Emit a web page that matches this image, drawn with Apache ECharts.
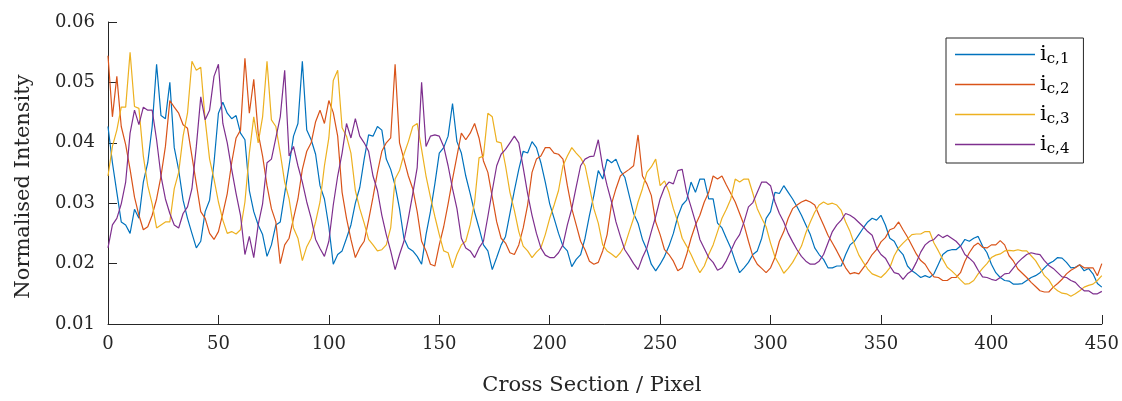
<!DOCTYPE html>
<html><head><meta charset="utf-8">
<script src="https://cdn.jsdelivr.net/npm/echarts@6/dist/echarts.min.js"></script>
<style>html,body{margin:0;padding:0;background:#fff}#c{width:1122px;height:401px}</style>
</head><body><div id="c"></div>
<script>
const seriesNames = ['ic,1', 'ic,2', 'ic,3', 'ic,4'];
const seriesColors = ['#0072BD', '#D95319', '#EDB120', '#7E2F8E'];
const xStep = 2; // samples every 2 pixels along the cross section, from 0 to 450

const ic1 = [
0.0427,0.0367,0.0318,0.0269,0.0264,0.0250,0.0290,0.0275,0.0335,0.0367,
0.0427,0.0530,0.0445,0.0440,0.0500,0.0392,0.0355,0.0305,0.0275,0.0250,
0.0226,0.0237,0.0286,0.0305,0.0367,0.0449,0.0467,0.0449,0.0440,0.0445,
0.0416,0.0405,0.0321,0.0286,0.0264,0.0248,0.0212,0.0231,0.0264,0.0269,
0.0316,0.0362,0.0411,0.0432,0.0535,0.0421,0.0405,0.0381,0.0329,0.0307,
0.0261,0.0199,0.0215,0.0221,0.0242,0.0264,0.0300,0.0326,0.0373,0.0413,
0.0411,0.0427,0.0421,0.0373,0.0356,0.0329,0.0291,0.0242,0.0226,0.0221,
0.0212,0.0199,0.0248,0.0286,0.0332,0.0383,0.0392,0.0411,0.0465,0.0402,
0.0383,0.0345,0.0316,0.0285,0.0259,0.0231,0.0221,0.0190,0.0210,0.0231,
0.0245,0.0283,0.0321,0.0356,0.0386,0.0383,0.0402,0.0392,0.0367,0.0335,
0.0299,0.0275,0.0250,0.0229,0.0221,0.0195,0.0207,0.0215,0.0242,0.0280,
0.0313,0.0354,0.0340,0.0373,0.0367,0.0373,0.0354,0.0343,0.0313,0.0283,
0.0267,0.0240,0.0223,0.0199,0.0188,0.0199,0.0212,0.0229,0.0250,0.0278,
0.0297,0.0305,0.0335,0.0318,0.0340,0.0340,0.0307,0.0307,0.0267,0.0259,
0.0242,0.0226,0.0204,0.0185,0.0193,0.0202,0.0215,0.0221,0.0242,0.0275,
0.0286,0.0318,0.0316,0.0329,0.0318,0.0307,0.0294,0.0280,0.0264,0.0248,
0.0226,0.0215,0.0207,0.0193,0.0193,0.0196,0.0196,0.0215,0.0231,0.0237,
0.0248,0.0259,0.0269,0.0275,0.0272,0.0280,0.0264,0.0242,0.0237,0.0223,
0.0215,0.0196,0.0188,0.0183,0.0177,0.0180,0.0177,0.0183,0.0199,0.0215,
0.0221,0.0223,0.0223,0.0229,0.0240,0.0237,0.0242,0.0245,0.0229,0.0218,
0.0199,0.0185,0.0177,0.0172,0.0171,0.0166,0.0166,0.0167,0.0172,0.0177,
0.0180,0.0185,0.0193,0.0200,0.0204,0.0210,0.0209,0.0202,0.0193,0.0194,
0.0198,0.0188,0.0192,0.0183,0.0167,0.0161
];
const ic2 = [
0.0544,0.0443,0.0510,0.0427,0.0397,0.0356,0.0310,0.0280,0.0256,0.0261,
0.0280,0.0307,0.0345,0.0394,0.0470,0.0459,0.0449,0.0430,0.0424,0.0378,
0.0332,0.0286,0.0275,0.0250,0.0240,0.0253,0.0283,0.0316,0.0367,0.0408,
0.0421,0.0540,0.0449,0.0505,0.0416,0.0378,0.0329,0.0291,0.0269,0.0200,
0.0231,0.0242,0.0275,0.0307,0.0356,0.0386,0.0400,0.0435,0.0454,0.0432,
0.0470,0.0450,0.0411,0.0318,0.0275,0.0240,0.0210,0.0226,0.0237,0.0272,
0.0310,0.0351,0.0386,0.0400,0.0408,0.0530,0.0400,0.0373,0.0345,0.0324,
0.0286,0.0237,0.0221,0.0199,0.0196,0.0231,0.0261,0.0299,0.0340,0.0378,
0.0416,0.0405,0.0416,0.0432,0.0408,0.0370,0.0351,0.0310,0.0269,0.0242,
0.0234,0.0218,0.0215,0.0231,0.0259,0.0297,0.0351,0.0373,0.0378,0.0392,
0.0392,0.0383,0.0381,0.0373,0.0329,0.0291,0.0264,0.0237,0.0223,0.0204,
0.0199,0.0202,0.0221,0.0248,0.0299,0.0324,0.0345,0.0351,0.0356,0.0362,
0.0413,0.0345,0.0332,0.0313,0.0269,0.0248,0.0223,0.0215,0.0204,0.0188,
0.0193,0.0215,0.0242,0.0264,0.0280,0.0302,0.0318,0.0345,0.0340,0.0345,
0.0330,0.0316,0.0302,0.0283,0.0264,0.0237,0.0212,0.0199,0.0192,0.0185,
0.0193,0.0210,0.0237,0.0253,0.0275,0.0291,0.0297,0.0302,0.0305,0.0302,
0.0297,0.0280,0.0264,0.0247,0.0234,0.0221,0.0207,0.0193,0.0183,0.0185,
0.0183,0.0193,0.0203,0.0215,0.0223,0.0236,0.0243,0.0256,0.0259,0.0269,
0.0256,0.0244,0.0230,0.0216,0.0205,0.0199,0.0187,0.0178,0.0177,0.0172,
0.0172,0.0177,0.0177,0.0185,0.0204,0.0218,0.0229,0.0234,0.0227,0.0226,
0.0231,0.0231,0.0238,0.0231,0.0213,0.0204,0.0191,0.0184,0.0177,0.0169,
0.0162,0.0155,0.0153,0.0153,0.0161,0.0167,0.0174,0.0183,0.0189,0.0193,
0.0198,0.0193,0.0193,0.0193,0.0180,0.0200
];
const ic3 = [
0.0345,0.0394,0.0421,0.0459,0.0459,0.0550,0.0460,0.0457,0.0378,0.0329,
0.0299,0.0259,0.0264,0.0269,0.0269,0.0324,0.0351,0.0411,0.0449,0.0535,
0.0520,0.0525,0.0438,0.0373,0.0340,0.0302,0.0272,0.0250,0.0253,0.0249,
0.0256,0.0302,0.0383,0.0443,0.0400,0.0443,0.0535,0.0438,0.0427,0.0383,
0.0335,0.0307,0.0259,0.0242,0.0205,0.0228,0.0242,0.0269,0.0302,0.0362,
0.0408,0.0503,0.0520,0.0425,0.0411,0.0383,0.0321,0.0291,0.0267,0.0240,
0.0231,0.0221,0.0223,0.0231,0.0259,0.0340,0.0354,0.0381,0.0402,0.0427,
0.0432,0.0389,0.0345,0.0310,0.0278,0.0248,0.0221,0.0218,0.0193,0.0215,
0.0231,0.0237,0.0264,0.0302,0.0375,0.0378,0.0449,0.0443,0.0402,0.0400,
0.0362,0.0318,0.0288,0.0253,0.0229,0.0221,0.0210,0.0219,0.0226,0.0248,
0.0275,0.0297,0.0321,0.0362,0.0378,0.0392,0.0383,0.0375,0.0362,0.0327,
0.0291,0.0267,0.0231,0.0221,0.0216,0.0210,0.0218,0.0230,0.0253,0.0275,
0.0302,0.0324,0.0351,0.0360,0.0373,0.0329,0.0337,0.0318,0.0291,0.0269,
0.0242,0.0229,0.0215,0.0199,0.0185,0.0196,0.0215,0.0231,0.0253,0.0275,
0.0290,0.0307,0.0340,0.0335,0.0340,0.0340,0.0316,0.0291,0.0275,0.0261,
0.0234,0.0211,0.0198,0.0184,0.0192,0.0202,0.0215,0.0229,0.0251,0.0269,
0.0285,0.0297,0.0302,0.0298,0.0300,0.0297,0.0288,0.0269,0.0253,0.0232,
0.0214,0.0202,0.0191,0.0183,0.0180,0.0177,0.0184,0.0193,0.0213,0.0226,
0.0234,0.0241,0.0248,0.0249,0.0249,0.0253,0.0253,0.0234,0.0221,0.0207,
0.0194,0.0188,0.0181,0.0173,0.0166,0.0167,0.0172,0.0183,0.0192,0.0200,
0.0210,0.0214,0.0216,0.0221,0.0222,0.0221,0.0223,0.0221,0.0221,0.0213,
0.0205,0.0193,0.0180,0.0173,0.0161,0.0155,0.0151,0.0150,0.0146,0.0150,
0.0155,0.0161,0.0164,0.0166,0.0172,0.0180
];
const ic4 = [
0.0226,0.0264,0.0275,0.0299,0.0335,0.0416,0.0454,0.0430,0.0459,0.0454,
0.0454,0.0405,0.0345,0.0307,0.0283,0.0264,0.0259,0.0283,0.0294,0.0324,
0.0394,0.0476,0.0438,0.0454,0.0510,0.0530,0.0432,0.0400,0.0356,0.0316,
0.0280,0.0215,0.0245,0.0210,0.0264,0.0299,0.0367,0.0373,0.0408,0.0443,
0.0520,0.0378,0.0394,0.0362,0.0335,0.0302,0.0275,0.0240,0.0225,0.0212,
0.0237,0.0297,0.0345,0.0383,0.0432,0.0408,0.0440,0.0411,0.0400,0.0386,
0.0345,0.0321,0.0280,0.0248,0.0221,0.0190,0.0215,0.0237,0.0275,0.0316,
0.0359,0.0500,0.0394,0.0411,0.0413,0.0411,0.0394,0.0362,0.0324,0.0291,
0.0242,0.0226,0.0221,0.0210,0.0226,0.0237,0.0278,0.0321,0.0362,0.0381,
0.0389,0.0400,0.0411,0.0400,0.0359,0.0316,0.0280,0.0250,0.0226,0.0214,
0.0210,0.0210,0.0218,0.0231,0.0264,0.0291,0.0327,0.0362,0.0373,0.0377,
0.0378,0.0405,0.0360,0.0329,0.0302,0.0269,0.0245,0.0223,0.0212,0.0200,
0.0190,0.0210,0.0226,0.0253,0.0278,0.0307,0.0326,0.0335,0.0332,0.0354,
0.0356,0.0318,0.0294,0.0269,0.0240,0.0225,0.0210,0.0202,0.0189,0.0193,
0.0205,0.0221,0.0237,0.0248,0.0269,0.0294,0.0301,0.0318,0.0335,0.0335,
0.0329,0.0302,0.0283,0.0269,0.0250,0.0236,0.0223,0.0212,0.0204,0.0199,
0.0199,0.0204,0.0215,0.0234,0.0253,0.0264,0.0272,0.0283,0.0280,0.0275,
0.0268,0.0261,0.0253,0.0247,0.0226,0.0215,0.0209,0.0196,0.0185,0.0183,
0.0174,0.0183,0.0188,0.0202,0.0219,0.0231,0.0237,0.0240,0.0248,0.0243,
0.0247,0.0242,0.0237,0.0229,0.0215,0.0209,0.0202,0.0189,0.0178,0.0177,
0.0174,0.0172,0.0177,0.0183,0.0184,0.0193,0.0202,0.0209,0.0215,0.0218,
0.0216,0.0215,0.0205,0.0197,0.0192,0.0185,0.0178,0.0177,0.0172,0.0169,
0.0161,0.0155,0.0155,0.0150,0.0150,0.0154
];

const FONT = 'DejaVu Serif';
const INK = '#262626';
const allSeries = [ic1, ic2, ic3, ic4];

const chart = echarts.init(document.getElementById('c'), null, {renderer: 'canvas'});
chart.setOption({
  animation: false,
  backgroundColor: '#ffffff',
  grid: {left: 108, right: 18, top: 22, bottom: 72, containLabel: false},
  xAxis: {
    type: 'value', min: 0, max: 450, interval: 50,
    name: 'Cross Section / Pixel', nameLocation: 'middle', nameGap: 51,
    nameTextStyle: {fontFamily: FONT, fontSize: 21, color: INK, padding: [0, 26, 0, 0]},
    axisLine: {lineStyle: {color: INK, width: 1}},
    axisTick: {inside: true, length: 9, lineStyle: {color: INK}},
    axisLabel: {fontFamily: FONT, fontSize: 18, color: INK, margin: 11},
    splitLine: {show: false}
  },
  yAxis: {
    type: 'value', min: 0.01, max: 0.06, interval: 0.01,
    name: 'Normalised Intensity', nameLocation: 'middle', nameGap: 74,
    nameTextStyle: {fontFamily: FONT, fontSize: 21, color: INK, padding: [0, 27, 0, 0]},
    axisLine: {show: true, lineStyle: {color: INK, width: 1}},
    axisTick: {show: true, inside: true, length: 9, lineStyle: {color: INK}},
    axisLabel: {fontFamily: FONT, fontSize: 18, color: INK, margin: 13,
      formatter: v => v.toFixed(2)},
    splitLine: {show: false}
  },
  legend: {
    data: seriesNames,
    orient: 'vertical', left: 946, top: 38,
    padding: [6, 14, 6, 9], itemGap: 7, itemWidth: 80, itemHeight: 1.5,
    icon: 'rect',
    borderColor: INK, borderWidth: 1, backgroundColor: '#ffffff',
    formatter: name => '{m|' + name.charAt(0) + '}{s|' + name.slice(1) + '}',
    textStyle: {
      color: '#000', fontFamily: FONT,
      rich: {
        m: {fontFamily: FONT, fontSize: 21, color: '#000'},
        s: {fontFamily: FONT, fontSize: 15, color: '#000', padding: [10, 0, 0, 0]}
      }
    }
  },
  series: allSeries.map((vals, k) => ({
    name: seriesNames[k],
    type: 'line',
    symbol: 'none',
    showSymbol: false,
    color: seriesColors[k],
    lineStyle: {width: 1.2, color: seriesColors[k]},
    data: vals.map((v, i) => [i * xStep, v])
  }))
});
</script>
</body></html>
